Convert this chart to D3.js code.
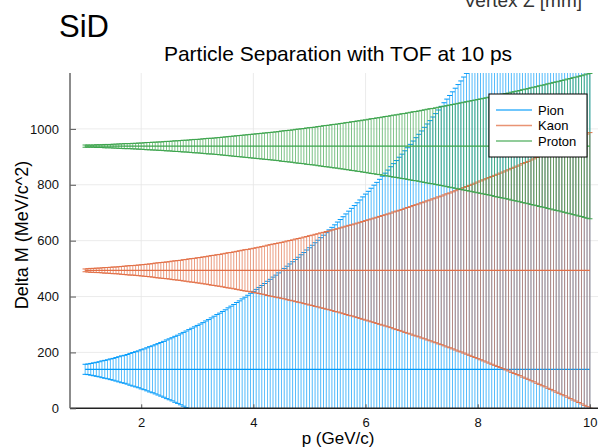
<!DOCTYPE html>
<html>
<head>
<meta charset="utf-8">
<title>Particle Separation with TOF at 10 ps</title>
<script src="https://d3js.org/d3.v7.min.js"></script>
<style>
	body { margin: 0; background: #ffffff; }
	svg { display: block; font-family: "Liberation Sans", Arial, Helvetica, sans-serif; }
</style>
</head>
<body>
<script>
/*
* Particle separation with TOF at 10 ps: mass with error bars against momentum.
*/

// particle names, masses (MeV/c^2) and colours
var particles = ["Pion", "Kaon", "Proton"];
var masses = [139.57, 493.68, 938.27];
var colors = ["#009AFA", "#E26F46", "#3DA44D"];

// momentum points (GeV/c)
var momentum = [
	1.00, 1.05, 1.10, 1.15, 1.20, 1.25, 1.30, 1.35, 1.40, 1.45, 1.50, 1.55, 1.60, 1.65, 1.70, 1.75, 1.80, 1.85, 1.90, 1.95,
	2.00, 2.05, 2.10, 2.15, 2.20, 2.25, 2.30, 2.35, 2.40, 2.45, 2.50, 2.55, 2.60, 2.65, 2.70, 2.75, 2.80, 2.85, 2.90, 2.95,
	3.00, 3.05, 3.10, 3.15, 3.20, 3.25, 3.30, 3.35, 3.40, 3.45, 3.50, 3.55, 3.60, 3.65, 3.70, 3.75, 3.80, 3.85, 3.90, 3.95,
	4.00, 4.05, 4.10, 4.15, 4.20, 4.25, 4.30, 4.35, 4.40, 4.45, 4.50, 4.55, 4.60, 4.65, 4.70, 4.75, 4.80, 4.85, 4.90, 4.95,
	5.00, 5.05, 5.10, 5.15, 5.20, 5.25, 5.30, 5.35, 5.40, 5.45, 5.50, 5.55, 5.60, 5.65, 5.70, 5.75, 5.80, 5.85, 5.90, 5.95,
	6.00, 6.05, 6.10, 6.15, 6.20, 6.25, 6.30, 6.35, 6.40, 6.45, 6.50, 6.55, 6.60, 6.65, 6.70, 6.75, 6.80, 6.85, 6.90, 6.95,
	7.00, 7.05, 7.10, 7.15, 7.20, 7.25, 7.30, 7.35, 7.40, 7.45, 7.50, 7.55, 7.60, 7.65, 7.70, 7.75, 7.80, 7.85, 7.90, 7.95,
	8.00, 8.05, 8.10, 8.15, 8.20, 8.25, 8.30, 8.35, 8.40, 8.45, 8.50, 8.55, 8.60, 8.65, 8.70, 8.75, 8.80, 8.85, 8.90, 8.95,
	9.00, 9.05, 9.10, 9.15, 9.20, 9.25, 9.30, 9.35, 9.40, 9.45, 9.50, 9.55, 9.60, 9.65, 9.70, 9.75, 9.80, 9.85, 9.90, 9.95,
	10.00];

// half width of the error bars (MeV/c^2), one value per momentum point
var pionErr = [
	18, 19, 21, 23, 25, 27, 30, 32, 34, 37, 39, 42, 45, 48, 50, 53, 57, 60, 63, 66,
	70, 73, 77, 81, 84, 88, 92, 96, 100, 105, 109, 113, 118, 122, 127, 132, 137, 142, 147, 152,
	157, 162, 167, 173, 178, 184, 190, 196, 201, 207, 213, 220, 226, 232, 239, 245, 252, 258, 265, 272,
	279, 286, 293, 300, 307, 315, 322, 330, 337, 345, 353, 361, 369, 377, 385, 393, 401, 410, 418, 427,
	435, 444, 453, 462, 471, 480, 489, 499, 508, 517, 527, 536, 546, 556, 566, 576, 586, 596, 606, 617,
	627, 637, 648, 659, 669, 680, 691, 702, 713, 725, 736, 747, 759, 770, 782, 793, 805, 817, 829, 841,
	853, 866, 878, 890, 903, 915, 928, 941, 954, 967, 980, 993, 1006, 1019, 1032, 1046, 1059, 1073, 1087, 1101,
	1114, 1128, 1142, 1157, 1171, 1185, 1200, 1214, 1229, 1243, 1258, 1273, 1288, 1303, 1318, 1333, 1348, 1364, 1379, 1395,
	1410, 1426, 1442, 1458, 1474, 1490, 1506, 1522, 1539, 1555, 1571, 1588, 1605, 1621, 1638, 1655, 1672, 1689, 1707, 1724,
	1741];

var kaonErr = [
	5, 6, 7, 7, 8, 8, 9, 10, 10, 11, 12, 12, 13, 14, 15, 16, 17, 17, 18, 19,
	20, 21, 22, 23, 24, 26, 27, 28, 29, 30, 31, 33, 34, 35, 36, 38, 39, 41, 42, 43,
	45, 46, 48, 49, 51, 53, 54, 56, 57, 59, 61, 63, 64, 66, 68, 70, 72, 74, 75, 77,
	79, 81, 83, 85, 87, 90, 92, 94, 96, 98, 100, 102, 105, 107, 109, 112, 114, 116, 119, 121,
	124, 126, 129, 131, 134, 136, 139, 141, 144, 147, 149, 152, 155, 158, 161, 163, 166, 169, 172, 175,
	178, 181, 184, 187, 190, 193, 196, 199, 202, 205, 209, 212, 215, 218, 222, 225, 228, 232, 235, 238,
	242, 245, 249, 252, 256, 259, 263, 266, 270, 274, 277, 281, 285, 289, 292, 296, 300, 304, 308, 312,
	316, 320, 324, 328, 332, 336, 340, 344, 348, 352, 356, 360, 365, 369, 373, 377, 382, 386, 390, 395,
	399, 404, 408, 413, 417, 422, 426, 431, 436, 440, 445, 449, 454, 459, 464, 468, 473, 478, 483, 488,
	493];

var protonErr = [
	4, 4, 4, 4, 5, 5, 5, 6, 6, 6, 7, 7, 8, 8, 9, 9, 9, 10, 10, 11,
	11, 12, 13, 13, 14, 14, 15, 15, 16, 17, 17, 18, 19, 19, 20, 21, 21, 22, 23, 24,
	24, 25, 26, 27, 28, 28, 29, 30, 31, 32, 33, 34, 35, 36, 37, 38, 39, 40, 41, 42,
	43, 44, 45, 46, 47, 48, 49, 50, 51, 52, 54, 55, 56, 57, 58, 60, 61, 62, 63, 65,
	66, 67, 68, 70, 71, 73, 74, 75, 77, 78, 79, 81, 82, 84, 85, 87, 88, 90, 91, 93,
	94, 96, 98, 99, 101, 102, 104, 106, 107, 109, 111, 112, 114, 116, 117, 119, 121, 123, 124, 126,
	128, 130, 132, 134, 135, 137, 139, 141, 143, 145, 147, 149, 151, 153, 155, 157, 159, 161, 163, 165,
	167, 169, 171, 173, 175, 177, 180, 182, 184, 186, 188, 190, 193, 195, 197, 199, 202, 204, 206, 209,
	211, 213, 216, 218, 220, 223, 225, 228, 230, 232, 235, 237, 240, 242, 245, 247, 250, 252, 255, 258,
	260];

// axis ticks
var xTicks = [2, 4, 6, 8, 10];
var yTicks = [0, 200, 400, 600, 800, 1000];

var errors = [pionErr, kaonErr, protonErr];

window.onload = function() {
	makePlot();
};

/*
* Draws the whole figure.
*/
function makePlot() {

	var width = 598;
	var height = 447;
	var plot = {left: 70, right: 605, top: 73, bottom: 408.3};
	var capHalf = 2.6;

	var xScale = d3.scaleLinear()
		.domain([0.73, 10.27])
		.range([plot.left, plot.right]);

	var yScale = d3.scaleLinear()
		.domain([0, 1200])
		.range([plot.bottom, plot.top]);

	var svg = d3.select("body")
		.append("svg")
		.attr("width", width)
		.attr("height", height);

	// clip everything that is drawn inside the frame
	svg.append("clipPath")
		.attr("id", "frame")
		.append("rect")
		.attr("x", plot.left)
		.attr("y", plot.top)
		.attr("width", plot.right - plot.left)
		.attr("height", plot.bottom - plot.top);

	// grid lines
	var grid = svg.append("g");
	grid.selectAll(".gx")
		.data(xTicks)
		.enter()
		.append("line")
		.attr("x1", function(d) { return xScale(d); })
		.attr("x2", function(d) { return xScale(d); })
		.attr("y1", plot.top)
		.attr("y2", plot.bottom)
		.style("stroke", "#e6e6e6")
		.style("stroke-width", 0.8);
	grid.selectAll(".gy")
		.data(yTicks.slice(1))
		.enter()
		.append("line")
		.attr("x1", plot.left)
		.attr("x2", plot.right)
		.attr("y1", function(d) { return yScale(d); })
		.attr("y2", function(d) { return yScale(d); })
		.style("stroke", "#e6e6e6")
		.style("stroke-width", 0.8);

	var data = svg.append("g")
		.attr("clip-path", "url(#frame)");

	// error bars then the mass line, one particle after another
	particles.forEach(function(name, k) {
		var points = momentum.map(function(p, i) {
			return {p: p, lo: masses[k] - errors[k][i], hi: masses[k] + errors[k][i]};
		});

		var bars = data.append("g")
			.style("stroke", colors[k])
			.style("stroke-width", 0.8);

		bars.selectAll(".bar")
			.data(points)
			.enter()
			.append("line")
			.attr("x1", function(d) { return xScale(d.p); })
			.attr("x2", function(d) { return xScale(d.p); })
			.attr("y1", function(d) { return yScale(d.lo); })
			.attr("y2", function(d) { return yScale(d.hi); })
			.style("opacity", 0.85);

		["lo", "hi"].forEach(function(end) {
			bars.selectAll(".cap-" + end)
				.data(points)
				.enter()
				.append("line")
				.attr("x1", function(d) { return xScale(d.p) - capHalf; })
				.attr("x2", function(d) { return xScale(d.p) + capHalf; })
				.attr("y1", function(d) { return yScale(d[end]); })
				.attr("y2", function(d) { return yScale(d[end]); })
				.style("stroke-width", 1);
		});

		data.append("line")
			.attr("x1", xScale(momentum[0]))
			.attr("x2", xScale(momentum[momentum.length - 1]))
			.attr("y1", yScale(masses[k]))
			.attr("y2", yScale(masses[k]))
			.style("stroke", colors[k])
			.style("stroke-width", 1.2);
	});

	// axes
	var xAxis = d3.axisBottom(xScale)
		.tickValues(xTicks)
		.tickSize(-4)
		.tickPadding(9)
		.tickFormat(d3.format("d"));

	var yAxis = d3.axisLeft(yScale)
		.tickValues(yTicks)
		.tickSize(-6)
		.tickPadding(11)
		.tickFormat(d3.format("d"));

	var gx = svg.append("g")
		.attr("transform", "translate(0," + plot.bottom + ")")
		.call(xAxis);
	gx.select(".domain").remove();
	gx.append("line")
		.attr("x1", plot.left)
		.attr("x2", width)
		.style("stroke", "#222222")
		.style("stroke-width", 1.5);

	var gy = svg.append("g")
		.attr("transform", "translate(" + plot.left + ",0)")
		.call(yAxis);
	gy.select(".domain").remove();
	gy.append("line")
		.attr("y1", plot.top)
		.attr("y2", plot.bottom)
		.style("stroke", "#666666")
		.style("stroke-width", 1.5);

	svg.selectAll(".tick line")
		.style("stroke", "#555555")
		.style("stroke-width", 1);
	svg.selectAll(".tick text")
		.style("font-size", "13px")
		.style("fill", "#111111")
		.style("font-family", "'Liberation Sans', Arial, sans-serif");

	// legend
	var legend = svg.append("g")
		.attr("transform", "translate(489,94)");
	legend.append("rect")
		.attr("width", 98)
		.attr("height", 63)
		.style("fill", "#ffffff")
		.style("stroke", "#000000")
		.style("stroke-width", 1);
	particles.forEach(function(name, k) {
		var y = 16 + k * 15.5;
		legend.append("line")
			.attr("x1", 7)
			.attr("x2", 43)
			.attr("y1", y)
			.attr("y2", y)
			.style("stroke", colors[k])
			.style("stroke-width", 1.5)
			.style("opacity", 0.75);
		legend.append("text")
			.attr("x", 49)
			.attr("y", y + 4.5)
			.text(name)
			.style("font-size", "13px");
	});

	// titles and labels
	svg.append("text")
		.attr("x", 59)
		.attr("y", 37)
		.text("SiD")
		.style("font-size", "31px");

	svg.append("text")
		.attr("x", 582)
		.attr("y", 7)
		.text("Vertex Z [mm]")
		.style("text-anchor", "end")
		.style("fill", "#333333")
		.style("font-size", "19px");

	svg.append("text")
		.attr("x", 338)
		.attr("y", 61)
		.text("Particle Separation with TOF at 10 ps")
		.style("text-anchor", "middle")
		.style("font-size", "21px");

	svg.append("text")
		.attr("x", 338)
		.attr("y", 444)
		.text("p (GeV/c)")
		.style("text-anchor", "middle")
		.style("font-size", "17px");

	svg.append("text")
		.attr("transform", "translate(28,235) rotate(-90)")
		.text("Delta M (MeV/c^2)")
		.style("text-anchor", "middle")
		.style("font-size", "18px");
}
</script>
</body>
</html>
